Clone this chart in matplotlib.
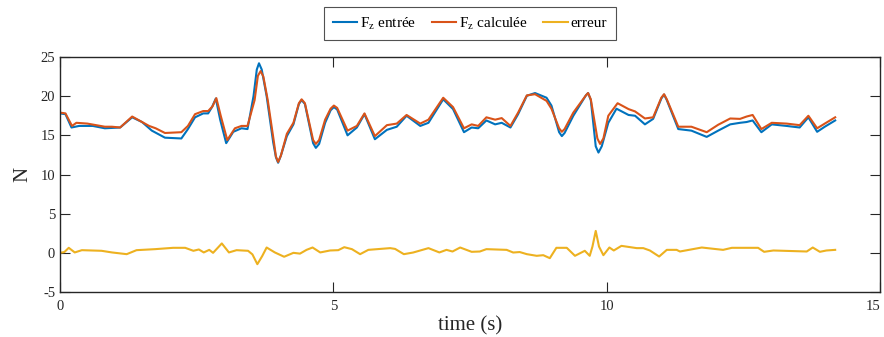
import matplotlib
matplotlib.use("Agg")
import matplotlib.pyplot as plt

# ---- data ----
t_entree = [0.00, 0.10, 0.21, 0.35, 0.60, 0.82, 1.10, 1.32, 1.50, 1.68, 1.92, 2.22, 2.34, 2.47,
            2.62, 2.71, 2.78, 2.85, 2.93, 3.04, 3.17, 3.32, 3.43, 3.54, 3.60, 3.64, 3.69, 3.78,
            3.90, 3.95, 3.99, 4.04, 4.15, 4.27, 4.37, 4.42, 4.48, 4.63, 4.68, 4.74, 4.85, 4.95,
            5.01, 5.07, 5.26, 5.43, 5.57, 5.76, 5.98, 6.16, 6.34, 6.59, 6.74, 7.01,
            7.19, 7.39, 7.53, 7.65, 7.80, 7.96, 8.08, 8.24, 8.38, 8.54, 8.69, 8.90, 8.99, 9.13,
            9.18, 9.23, 9.39, 9.62, 9.66, 9.71, 9.80, 9.85, 9.91, 10.03, 10.18, 10.40, 10.52,
            10.70, 10.85, 11.00, 11.05, 11.10, 11.31, 11.55,
            11.83, 12.04, 12.26, 12.44, 12.56, 12.67, 12.83, 13.02, 13.29, 13.53, 13.69, 13.85,
            13.99, 14.18]
f_entree = [17.8, 17.7, 16.0, 16.2, 16.2, 15.9, 16.0, 17.3, 16.7, 15.6, 14.7, 14.6, 15.8, 17.3,
            17.8, 17.8, 18.6, 19.7, 17.0, 14.0, 15.45, 15.9, 15.8, 20.0, 23.4, 24.2, 23.4, 20.0,
            14.1, 12.2, 11.5, 12.4, 14.9, 16.4, 19.0, 19.5, 19.0, 14.0, 13.4, 13.9, 16.6, 18.2,
            18.6, 18.3, 15.0, 16.0, 17.7, 14.5, 15.7, 16.1, 17.5, 16.2, 16.6, 19.6,
            18.35, 15.4, 16.0, 15.9, 16.9, 16.4, 16.6, 16.0, 17.7, 20.05, 20.4, 19.8, 18.8, 15.4,
            14.9, 15.3, 17.5, 20.1, 20.4, 19.5, 13.6, 12.8, 13.6, 16.6, 18.4, 17.6, 17.5,
            16.4, 17.1, 19.7, 20.2, 19.5, 15.8, 15.6,
            14.8, 15.6, 16.4, 16.6, 16.7, 16.9, 15.4, 16.4, 16.2, 16.0, 17.3, 15.45,
            16.1, 16.9]

t_calc = [0.00, 0.10, 0.22, 0.30, 0.50, 0.82, 0.95, 1.10, 1.32, 1.63, 1.75, 1.92, 2.22, 2.34,
          2.47, 2.62, 2.71, 2.79, 2.86, 2.94, 3.06, 3.20, 3.32, 3.43, 3.56, 3.62, 3.67, 3.72,
          3.80, 3.91, 3.95, 3.99, 4.04, 4.15, 4.27, 4.37, 4.42, 4.48, 4.63, 4.68, 4.74, 4.85,
          4.95, 5.01, 5.07, 5.26, 5.43, 5.57, 5.76, 5.98, 6.16, 6.34, 6.59, 6.74,
          7.01, 7.19, 7.39, 7.53, 7.65, 7.80, 7.96, 8.08, 8.24, 8.38, 8.54, 8.69, 8.90, 8.99,
          9.13, 9.18, 9.23, 9.39, 9.62, 9.66, 9.71, 9.83, 9.88, 9.94, 10.03, 10.20, 10.40,
          10.52, 10.70, 10.85, 11.00, 11.05, 11.10, 11.31, 11.55,
          11.83, 12.04, 12.26, 12.44, 12.56, 12.67, 12.83, 13.02, 13.29, 13.53, 13.69, 13.85,
          13.99, 14.18]
f_calc = [17.9, 17.8, 16.2, 16.6, 16.5, 16.1, 16.1, 16.0, 17.4, 16.2, 15.9, 15.3, 15.4, 16.2,
          17.7, 18.1, 18.1, 18.7, 19.75, 17.5, 14.4, 15.9, 16.2, 16.2, 19.5, 22.6, 23.2, 22.5,
          19.5, 14.3, 12.3, 11.6, 12.4, 15.2, 16.6, 19.1, 19.6, 19.1, 14.4, 13.9, 14.4, 17.0,
          18.4, 18.8, 18.5, 15.6, 16.2, 17.8, 14.9, 16.3, 16.5, 17.6, 16.5, 17.0,
          19.8, 18.6, 15.9, 16.4, 16.2, 17.3, 17.0, 17.2, 16.2, 17.9, 20.1, 20.25, 19.4, 18.4,
          15.9, 15.45, 15.8, 17.9, 20.1, 20.4, 19.6, 14.6, 13.9, 14.6, 17.5, 19.1, 18.35,
          18.05, 17.15, 17.3, 19.8, 20.25, 19.6, 16.1, 16.1,
          15.4, 16.35, 17.15, 17.1, 17.4, 17.6, 15.8, 16.6, 16.5, 16.3, 17.5, 15.9,
          16.5, 17.3]

t_err = [0.00, 0.08, 0.16, 0.27, 0.40, 0.76, 0.95, 1.22, 1.40, 1.74, 2.07, 2.29, 2.44, 2.54,
         2.63, 2.73, 2.80, 2.96, 3.09, 3.23, 3.44, 3.52, 3.61, 3.70, 3.78, 3.93, 4.10, 4.27,
         4.39, 4.51, 4.62, 4.76, 4.94, 5.09, 5.20, 5.34, 5.49, 5.64, 6.04, 6.13, 6.29, 6.46,
         6.74, 6.94, 7.07, 7.18, 7.32, 7.53, 7.68, 7.80, 8.17, 8.29, 8.41, 8.54, 8.72, 8.84,
         8.96, 9.08, 9.27, 9.42, 9.60, 9.69, 9.74, 9.80, 9.86, 9.94, 10.05, 10.13, 10.27, 10.55,
         10.67, 10.79, 10.96, 11.10, 11.28, 11.34, 11.74, 12.01, 12.13, 12.29, 12.77, 12.88,
         13.05, 13.66, 13.77, 13.90, 14.02, 14.18]
f_err = [0.0, 0.1, 0.64, 0.05, 0.34, 0.26, 0.05, -0.17, 0.34, 0.47, 0.64, 0.64, 0.26, 0.43,
         0.05, 0.38, 0.0, 1.2, 0.05, 0.34, 0.26, -0.2, -1.45, -0.4, 0.68, 0.05, -0.5, 0.0,
         -0.1, 0.38, 0.68, 0.05, 0.3, 0.34, 0.72, 0.47, -0.17, 0.38, 0.6, 0.5, -0.17, 0.04,
         0.6, 0.05, 0.38, 0.17, 0.68, 0.13, 0.17, 0.47, 0.38, 0.04, 0.1, -0.17, -0.38, -0.3,
         -0.68, 0.64, 0.64, -0.38, 0.26, -0.38, 0.8, 2.8, 0.8, -0.3, 0.68, 0.3, 0.89, 0.6,
         0.6, 0.3, -0.47, 0.38, 0.38, 0.17, 0.68, 0.47, 0.38, 0.64, 0.64, 0.13,
         0.3, 0.17, 0.68, 0.13, 0.3, 0.38]

labels = [r'F$_{\mathrm{z}}$ entrée', r'F$_{\mathrm{z}}$ calculée', 'erreur']
x_ticks = [0, 5, 10, 15]
y_ticks = [-5, 0, 5, 10, 15, 20, 25]

# ---- style ----
plt.rcParams['font.family'] = ['Liberation Serif', 'DejaVu Serif']
plt.rcParams['mathtext.fontset'] = 'custom'
plt.rcParams['mathtext.rm'] = 'Liberation Serif'
plt.rcParams['mathtext.it'] = 'Liberation Serif:italic'
plt.rcParams['axes.unicode_minus'] = False

fig = plt.figure(figsize=(8.84, 3.37), dpi=100)
ax = fig.add_axes([60/884, 1-292/337, 820/884, 235/337])

c1, c2, c3 = '#0072BD', '#D95319', '#EDB120'
l1, = ax.plot(t_entree, f_entree, color=c1, lw=1.5, label=labels[0])
l2, = ax.plot(t_calc, f_calc, color=c2, lw=1.5, label=labels[1])
l3, = ax.plot(t_err, f_err, color=c3, lw=1.5, label=labels[2])

ax.set_xlim(0, 15)
ax.set_ylim(-5, 25)
ax.set_xticks(x_ticks)
ax.set_yticks(y_ticks)
ax.tick_params(direction='in', length=7, width=0.8, colors='#262626', labelsize=10.5,
               top=True, right=True, labelcolor='#262626')
ax.tick_params(axis='x', pad=6)
for s in ax.spines.values():
    s.set_color('#262626')
    s.set_linewidth(1.0)
# keep the last x tick label inside the figure
xlabs = ax.get_xticklabels()
xlabs[-1].set_horizontalalignment('right')

ax.set_xlabel('time (s)', fontsize=15, color='#262626', labelpad=2)
ax.set_ylabel('N', fontsize=15, color='#262626', labelpad=6)

leg = fig.legend(handles=[l1, l2, l3], loc='lower center', bbox_to_anchor=(470/884, 1-40/337),
                 ncol=3, fontsize=11, frameon=True, fancybox=False, edgecolor='#262626',
                 handlelength=1.6, handletextpad=0.2, columnspacing=1.0, borderpad=0.55,
                 borderaxespad=0)
leg.get_frame().set_linewidth(0.8)

fig.savefig('out.png', dpi=100)
